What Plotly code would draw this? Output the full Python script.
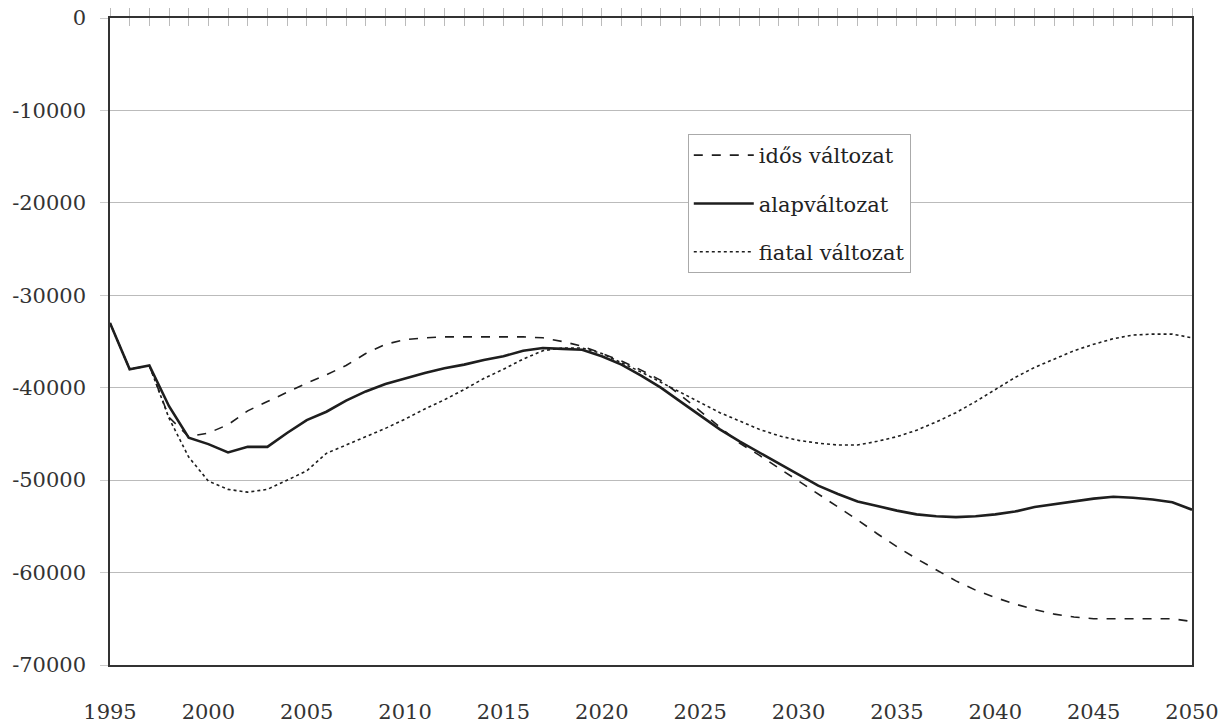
import plotly.graph_objects as go

years = list(range(1995, 2051))

idos_valtozat = [
    -33000, -38000, -37600, -43200, -45300, -44900, -44000, -42500, -41500, -40500,
    -39500, -38600, -37600, -36300, -35300, -34800, -34600, -34500, -34500, -34500,
    -34500, -34500, -34600, -35000, -35500, -36300, -37100, -38100, -39200, -40800,
    -42500, -44300, -46000, -47300, -48700, -50100, -51500, -52900, -54300, -55800,
    -57200, -58500, -59700, -60900, -61900, -62700, -63400, -64000, -64500, -64800,
    -65000, -65000, -65000, -65000, -65000, -65300,
]

alapvaltozat = [
    -33000, -38000, -37600, -42000, -45400, -46100, -47000, -46400, -46400, -44900,
    -43500, -42600, -41400, -40400, -39600, -39000, -38400, -37900, -37500, -37000,
    -36600, -36000, -35700, -35800, -35900, -36600, -37500, -38700, -40000, -41500,
    -43000, -44500, -45800, -47000, -48200, -49400, -50600, -51500, -52300, -52800,
    -53300, -53700, -53900, -54000, -53900, -53700, -53400, -52900, -52600, -52300,
    -52000, -51800, -51900, -52100, -52400, -53200,
]

fiatal_valtozat = [
    -33000, -38000, -37600, -43300, -47500, -50100, -51000, -51300, -51000, -50000,
    -49000, -47100, -46200, -45300, -44400, -43400, -42300, -41300, -40200, -39000,
    -38000, -36900, -36000, -35700, -35700, -36300, -37300, -38300, -39400, -40500,
    -41600, -42700, -43600, -44500, -45200, -45700, -46000, -46200, -46200, -45800,
    -45300, -44600, -43700, -42700, -41500, -40200, -38900, -37800, -36900, -36000,
    -35300, -34700, -34300, -34200, -34200, -34600,
]

x_tick_labels = [str(y) for y in range(1995, 2051, 5)]
y_ticks = list(range(-70000, 1, 10000))

SERIF = "DejaVu Serif"
INK = "#1e1e1e"

fig = go.Figure()

fig.add_trace(go.Scatter(
    x=years, y=idos_valtozat, mode="lines", name="idős változat",
    line=dict(color=INK, width=1.6, dash="dash"),
    legendgroup="a",
))
fig.add_trace(go.Scatter(
    x=years, y=alapvaltozat, mode="lines", name="alapváltozat",
    line=dict(color=INK, width=2.6),
    legendgroup="b",
))
fig.add_trace(go.Scatter(
    x=years, y=fiatal_valtozat, mode="lines", name="fiatal változat",
    line=dict(color=INK, width=1.6, dash="dot"),
    legendgroup="c",
))

# invisible helpers so the top (zero) axis gets year tick marks on both sides
for ax in ("x2", "x3"):
    fig.add_trace(go.Scatter(x=[1995, 2050], y=[0, 0], xaxis=ax, mode="lines",
                             line=dict(width=0), showlegend=False, hoverinfo="skip"))

fig.update_layout(
    width=1223, height=725,
    margin=dict(l=110, r=31, t=18, b=60),
    paper_bgcolor="white", plot_bgcolor="white",
    font=dict(family=SERIF, size=21, color="#333"),
    showlegend=True,
    legend=dict(
        x=0.534, y=0.8207, xanchor="left", yanchor="top",
        bgcolor="white", bordercolor="#aaa", borderwidth=1,
        font=dict(family=SERIF, size=21, color="#222"),
        traceorder="grouped", tracegroupgap=18,
        itemwidth=60,
    ),
    xaxis=dict(
        range=[1995, 2050], tickmode="array",
        tickvals=[int(t) for t in x_tick_labels], ticktext=x_tick_labels,
        showgrid=False, zeroline=False, automargin=False,
        showline=True, linecolor="#333", linewidth=1.5, mirror=False,
        ticks="", ticklabelstandoff=27,
    ),
    xaxis2=dict(
        range=[1995, 2050], overlaying="x", side="top", anchor="y",
        tick0=1995, dtick=1, ticks="outside", ticklen=8, tickcolor="#bbb",
        tickwidth=1, showticklabels=False, showgrid=False, zeroline=False,
        showline=True, linecolor="#333", linewidth=1.5, automargin=False,
    ),
    xaxis3=dict(
        range=[1995, 2050], overlaying="x", side="top", anchor="y",
        tick0=1995, dtick=1, ticks="inside", ticklen=8, tickcolor="#bbb",
        tickwidth=1, showticklabels=False, showgrid=False, zeroline=False,
        showline=False, automargin=False,
    ),
    yaxis=dict(
        range=[-70000, 0], tickmode="array", tickvals=y_ticks,
        ticktext=[str(v) for v in y_ticks], automargin=False,
        showgrid=True, gridcolor="#bbb", gridwidth=1, zeroline=False,
        showline=True, linecolor="#333", linewidth=1.5, mirror=True,
        ticks="outside", ticklen=8, tickcolor="#ccc", ticklabelstandoff=10,
    ),
)

fig.write_html("out.html")
